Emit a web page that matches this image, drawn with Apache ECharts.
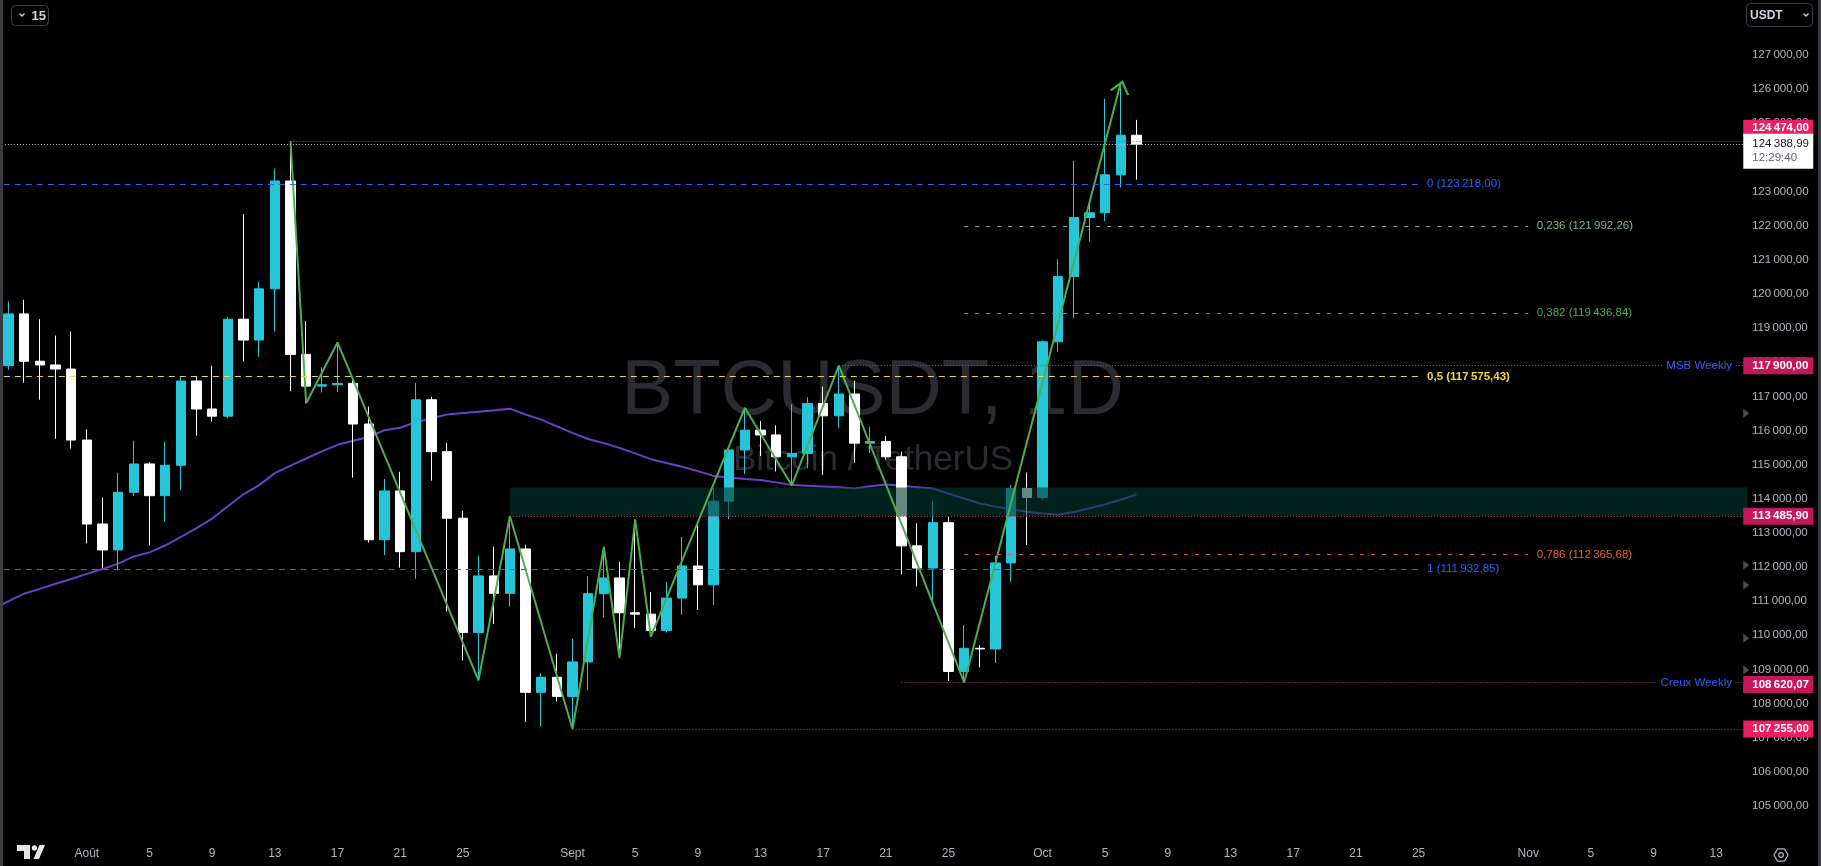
<!DOCTYPE html>
<html>
<head>
<meta charset="utf-8">
<script src="https://cdn.jsdelivr.net/npm/echarts@6/dist/echarts.min.js"></script>
<style>
html,body{margin:0;padding:0;background:#000;overflow:hidden}
#c{width:1821px;height:866px}
</style>
</head>
<body>
<div id="c"></div>
<script>
// ---------------- DATA ----------------
const axisStart = '2025-07-26';     // first category on the time axis
const axisDays = 113;               // categories through 2025-11-15
const candleStart = '2025-07-27';   // first candle
// daily candles [open, high, low, close]
const candles = [
  [117900,119780,117780,119415],[119415,119830,117400,118030],[118030,119260,116900,117920],
  [117920,118780,115760,117800],[117800,118900,115470,115720],
  [115720,116030,112690,113260],[113260,114030,111980,112500],[112500,114760,111900,114190],
  [114190,115700,114080,115020],[115020,115070,112630,114090],[114090,115670,113330,114980],
  [114980,117580,114250,117450],[117450,117600,115850,116630],[116630,117900,116260,116420],
  [116420,119320,116360,119260],[119260,122340,118020,118650],[118650,120350,118160,120150],
  [120150,123670,118900,123310],[123310,124474,117150,118230],[118230,119200,116800,117300],
  [117300,117850,117110,117340],[117340,118580,117130,117380],[117380,117540,114620,116190],
  [116190,116700,112720,112800],[112800,114580,112350,114230],[114230,114790,111980,112450],
  [112450,117400,111660,116900],[116900,116990,114530,115380],[115380,115630,110700,113430],
  [113430,113650,109260,110080],[110080,112330,108680,111740],[111740,112600,110330,111230],
  [111230,113495,110840,112530],[112530,112650,107460,108330],[108330,108890,107330,108770],
  [108770,109460,108060,108210],
  [108210,109900,107255,109220],[109220,111730,108390,111220],[111220,112590,110520,111680],
  [111680,112150,109335,110660],[110660,113390,110210,110620],[110620,111270,109960,110140],
  [110140,111560,110080,111090],[111090,112880,110600,112030],[112030,113230,110740,111480],
  [111480,114310,110890,113930],[113930,115550,113400,115430],[115430,116665,114720,116010],
  [116010,116280,115250,115870],[115870,116150,114800,115230],[115230,116770,114390,115330],
  [115330,116975,114900,116790],[116790,117285,114700,116430],[116430,117900,116080,117070],
  [117070,117460,115050,115630],[115630,116110,115340,115680],[115680,115840,115140,115230],
  [115230,115380,111780,112620],[112620,113280,111430,111970],[111970,113930,111010,113300],
  [113300,113470,108660,108940],[108940,110300,108620,109620],[109620,109710,109060,109600],
  [109600,112330,109190,112120],[112120,114400,111570,114300],[114300,114770,112650,114040],
  [114040,118640,113980,118600],[118600,121010,118310,120510],[120510,123900,119280,122240],
  [122240,122620,121530,122380],[122380,125720,122130,123490],[123490,126200,123120,124650],
  [124650,125100,123350,124388.99]
];
// moving average (purple), from 2025-07-26
const movingAvg = [
  110760,111000,111220,111360,111510,111650,
  111800,111940,112100,112310,112430,112630,112880,113140,113420,113780,114130,114400,114750,114970,
  115180,115390,115580,115700,115810,116010,116080,116240,116360,116470,116510,116550,116590,116640,
  116470,116320,116120,
  115930,115750,115630,115490,115330,115160,115050,114940,114810,114670,114620,114580,114550,114480,
  114400,114380,114360,114340,114300,114370,114420,114380,114340,114300,114150,114010,113860,113770,
  113690,113620,
  113570,113530,113610,113720,113840,113970,114130
];
// zigzag pivots
const zigzag = [
  ['2025-08-14',124474],['2025-08-15',116800],['2025-08-17',118580],['2025-08-26',108680],
  ['2025-08-28',113495],['2025-09-01',107255],['2025-09-03',112590],['2025-09-04',109335],
  ['2025-09-05',113390],['2025-09-06',109960],['2025-09-12',116665],['2025-09-15',114390],
  ['2025-09-18',117900],['2025-09-26',108620],['2025-10-06',126200]
];
// horizontal rays
const rayPrice = [124474.00, 117900.00, 113485.90, 108620.07, 107255.00];
const rayFrom  = ['2025-08-14','2025-09-18','2025-08-28','2025-09-22','2025-09-01'];
const rayNote  = ['', 'MSB Weekly', '', 'Creux Weekly', ''];
// last price
const lastPrice = 124388.99;
const countdown = '12:29:40';
// fibonacci levels
const fibRatio = ['0','0,5','1','0,236','0,382','0,786'];
const fibPrice = [123218.00,117575.43,111932.85,121992.26,119436.84,112365.68];
const fibFrom  = ['2025-07-26','2025-07-26','2025-07-26','2025-09-26','2025-09-26','2025-09-26'];
const fibTo    = ['2025-10-25','2025-10-25','2025-10-25','2025-11-01','2025-11-01','2025-11-01'];
// zone
const zoneFrom = '2025-08-28';
const zoneLow = 113485.90, zoneHigh = 114330;
// price-scale markers
const alertPrice = [116503, 112060, 111474, 109912, 108983, 108447];
// tick labels
const yMin = 104000, yMax = 128000, yStep = 1000;
const labelDays = [1,5,9,13,17,21,25];
const monthNames = {'08':'Août','09':'Sept','10':'Oct','11':'Nov'};

// ---------------- STYLE ----------------
const FONT = '"Liberation Sans", Arial, sans-serif';
const BULL = '#26c6da', BEAR = '#ffffff';
const AXIS_TXT = '#b2b5be';
const RAY_COLOR = '#d6336c';
const rayBox = ['#e91e63','#c2185b','#c2185b','#c2185b','#e91e63'];
const rayBoxDy = [-13, 0, 0, 2, 0];
const fibColor = ['#2962ff','#f0d83a','#2962ff','#7cb77c','#4caf50','#e8641b'];
const fibDash  = [[6,5],[6,5],[6,5],[4,7],[4,7],[4,7]];
const fibBold  = [false,true,false,false,false,false];

// ---------------- BUILD ----------------
function addDays(s, n){ const d = new Date(s + 'T00:00:00Z'); d.setUTCDate(d.getUTCDate() + n); return d.toISOString().slice(0,10); }
const dates = Array.from({length: axisDays}, (_, i) => addDays(axisStart, i));
const lastDate = dates[dates.length - 1];
const candleOffset = dates.indexOf(candleStart);
const candleData = [];
for (let i = 0; i < candleOffset; i++) candleData.push('-');
candles.forEach(r => candleData.push([r[0], r[3], r[2], r[1]]));

function fmtPrice(v){
  const s = Number(v).toFixed(2).split('.');
  return s[0].replace(/\B(?=(\d{3})+(?!\d))/g, '\u2009') + ',' + s[1];
}

const boxLabel = (txt, bg, dy) => ({
  show: true, position: 'right', distance: 0, offset: [-4.3, dy],
  formatter: txt, color: '#fff', fontWeight: 'bold', fontSize: 11.5, fontFamily: FONT,
  lineHeight: 13, backgroundColor: bg, padding: [2, 6, 2, 9], width: 55
});

const levelLines = [];
// current price dotted line
levelLines.push([{coord: [axisStart, lastPrice], lineStyle: {color: '#c8c8c8', width: 1, type: [1, 2]}, label: {show: false}},
                 {coord: [lastDate, lastPrice]}]);
rayPrice.forEach((p, i) => {
  levelLines.push([{coord: [rayFrom[i], p], lineStyle: {color: RAY_COLOR, width: 1, type: [1, 2]}, label: {show: false}},
                   {coord: [lastDate, p]}]);
});
fibPrice.forEach((p, i) => {
  levelLines.push([{coord: [fibFrom[i], p], lineStyle: {color: fibColor[i], width: 1, type: fibDash[i]},
                    label: {show: true, position: 'end', distance: 8.5, formatter: fibRatio[i] + ' (' + fmtPrice(p) + ')',
                            color: fibColor[i], fontSize: 11.5, fontFamily: FONT, fontWeight: fibBold[i] ? 'bold' : 'normal'}},
                   {coord: [fibTo[i], p]}]);
});

const levelTags = [];
rayPrice.forEach((p, i) => {
  if (rayNote[i]) {
    levelTags.push({coord: [lastDate, p], symbol: 'circle', symbolSize: 0,
      label: {show: true, position: 'left', distance: 12.6, formatter: rayNote[i], color: '#2962ff',
              fontSize: 11.5, fontFamily: FONT, backgroundColor: '#000', padding: [1, 3]}});
  }
});
rayPrice.forEach((p, i) => {
  levelTags.push({coord: [lastDate, p], symbol: 'circle', symbolSize: 0, label: boxLabel(fmtPrice(p), rayBox[i], rayBoxDy[i])});
});
levelTags.push({coord: [lastDate, lastPrice], symbol: 'circle', symbolSize: 0,
  label: {show: true, position: 'right', distance: 0, offset: [-4.3, 7],
          formatter: '{a|' + fmtPrice(lastPrice) + '}\n{b|' + countdown + '}',
          backgroundColor: '#ffffff', padding: [3, 6, 4, 9], width: 55,
          rich: {a: {color: '#131722', fontSize: 11.5, fontFamily: FONT, lineHeight: 14},
                 b: {color: '#5d606b', fontSize: 11.5, fontFamily: FONT, lineHeight: 14}}}});

const alertMarks = alertPrice.map(p => ({coord: [lastDate, p], symbol: 'triangle', symbolRotate: -90,
  symbolSize: [9, 6], symbolOffset: [-1.3, 0], itemStyle: {color: '#4a4e59'}, label: {show: false}}));

const zigData = zigzag.map((z, i) => i === zigzag.length - 1
  ? {value: z, symbol: 'path://M0,12 L7,0 L14,12', symbolSize: [18, 11], symbolRotate: -15, symbolOffset: [0, 5],
     itemStyle: {color: 'rgba(0,0,0,0)', borderColor: '#4caf50', borderWidth: 2}}
  : {value: z, symbol: 'none'});

// hexagon points for settings icon
const hex = [];
for (let k = 0; k < 6; k++) { const a = Math.PI / 3 * k; hex.push([1781 + 7 * Math.cos(a), 855 + 7 * Math.sin(a)]); }

const chart = echarts.init(document.getElementById('c'), null, {renderer: 'canvas', width: 1821, height: 866});
chart.setOption({
  backgroundColor: '#000',
  animation: false,
  textStyle: {fontFamily: FONT},
  grid: {left: -15, top: 20.9, width: 1770.4, height: 819.2, containLabel: false, outerBoundsMode: 'none'},
  xAxis: {
    type: 'category', data: dates, boundaryGap: true,
    axisLine: {show: false}, axisTick: {show: false}, splitLine: {show: false},
    axisLabel: {
      color: AXIS_TXT, fontSize: 12, fontFamily: FONT, margin: 8,
      interval: (idx, v) => labelDays.includes(+v.slice(8)),
      formatter: v => { const d = +v.slice(8); return d === 1 ? monthNames[v.slice(5, 7)] : String(d); }
    }
  },
  yAxis: {
    type: 'value', position: 'right', min: yMin, max: yMax, interval: yStep, scale: true,
    axisLine: {show: false}, axisTick: {show: false}, splitLine: {show: false},
    axisLabel: {color: AXIS_TXT, fontSize: 11.5, fontFamily: FONT, margin: -3.5, showMinLabel: false, showMaxLabel: false,
                formatter: v => fmtPrice(v)}
  },
  series: [
    {name: 'BTCUSDT', type: 'candlestick', z: 2, barWidth: 10, data: candleData,
     itemStyle: {color: BULL, color0: BEAR, borderColor: BULL, borderColor0: BEAR, borderWidth: 1}},
    {name: 'MA', type: 'line', z: 2, data: movingAvg, symbol: 'none', showSymbol: false,
     lineStyle: {color: '#6b40c8', width: 2},
     markArea: {z: 3, silent: true, itemStyle: {color: 'rgba(3,58,48,0.6)'},
                data: [[{coord: [zoneFrom, zoneLow]}, {coord: [lastDate, zoneHigh]}]]}},
    {name: 'ZigZag', type: 'line', z: 4, data: zigData, showSymbol: true, symbol: 'none',
     lineStyle: {color: '#4caf50', width: 2}},
    {name: 'alerts', type: 'line', z: 4, data: [],
     markPoint: {z: 4, silent: true, animation: false, data: alertMarks}},
    {name: 'levels', type: 'line', z: 5, data: [],
     markLine: {z: 5, silent: true, animation: false, symbol: ['none', 'none'], data: levelLines},
     markPoint: {z: 6, silent: true, animation: false, data: levelTags}}
  ],
  graphic: {elements: [
    {type: 'text', z: 0, silent: true, x: 872.5, y: 392,
     style: {text: 'BTCUSDT, 1D', font: '78px ' + FONT, fill: '#2b2c31', align: 'center', verticalAlign: 'middle'}},
    {type: 'text', z: 0, silent: true, x: 873, y: 460,
     style: {text: 'Bitcoin / TetherUS', font: '35px ' + FONT, fill: '#2b2c31', align: 'center', verticalAlign: 'middle'}},
    {type: 'rect', z: 100, silent: true, shape: {x: 0, y: 0, width: 3, height: 866}, style: {fill: '#3a3b40'}},
    {type: 'rect', z: 100, silent: true, shape: {x: 1818, y: 0, width: 3, height: 866}, style: {fill: '#3a3b40'}},
    {type: 'rect', z: 100, silent: true, shape: {x: 11.5, y: 5.5, width: 37, height: 20, r: 4},
     style: {fill: '#000', stroke: '#3c3f47', lineWidth: 1}},
    {type: 'polyline', z: 101, silent: true, shape: {points: [[19.5, 13.5], [22, 16], [24.5, 13.5]]},
     style: {stroke: '#d1d4dc', lineWidth: 1.3, fill: null}},
    {type: 'text', z: 101, silent: true, x: 31.5, y: 16,
     style: {text: '15', font: 'bold 13px ' + FONT, fill: '#d1d4dc', verticalAlign: 'middle'}},
    {type: 'rect', z: 100, silent: true, shape: {x: 1746.5, y: 3.5, width: 66, height: 23, r: 4},
     style: {fill: '#000', stroke: '#3c3f47', lineWidth: 1}},
    {type: 'text', z: 101, silent: true, x: 1750, y: 15.5,
     style: {text: 'USDT', font: 'bold 12px ' + FONT, fill: '#d1d4dc', verticalAlign: 'middle'}},
    {type: 'polyline', z: 101, silent: true, shape: {points: [[1803.5, 13.5], [1806, 16], [1808.5, 13.5]]},
     style: {stroke: '#d1d4dc', lineWidth: 1.3, fill: null}},
    {type: 'polygon', z: 101, silent: true, shape: {points: hex}, style: {fill: null, stroke: AXIS_TXT, lineWidth: 1.2}},
    {type: 'circle', z: 101, silent: true, shape: {cx: 1781, cy: 855, r: 2.3}, style: {fill: null, stroke: AXIS_TXT, lineWidth: 1.2}},
    {type: 'polygon', z: 101, silent: true, shape: {points: [[17, 845], [30, 845], [30, 859], [24, 859], [24, 851], [17, 851]]},
     style: {fill: '#e6e6e6'}},
    {type: 'circle', z: 101, silent: true, shape: {cx: 34.5, cy: 848, r: 2.7}, style: {fill: '#e6e6e6'}},
    {type: 'polygon', z: 101, silent: true, shape: {points: [[39.5, 845], [45, 845], [39, 859], [33.5, 859]]},
     style: {fill: '#e6e6e6'}}
  ]}
});
</script>
</body>
</html>
